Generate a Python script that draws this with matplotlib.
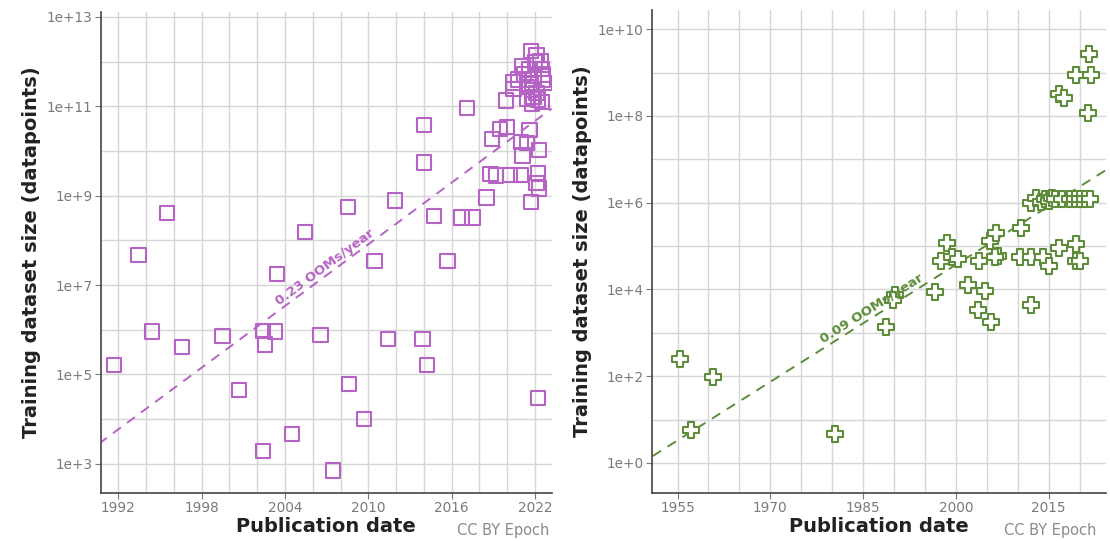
import numpy as np
import matplotlib
matplotlib.use('Agg')
import matplotlib.pyplot as plt
from matplotlib.ticker import FixedLocator, NullFormatter

# left panel: publication year, log10(dataset size)
lang_years = [1991.7, 1993.45, 1994.4, 1995.5, 1996.6, 1999.5, 2000.7, 2002.4, 2002.55, 2003.3,
              2003.4, 2002.4, 2004.5, 2005.45, 2006.55, 2007.45, 2008.55, 2008.6, 2009.7, 2010.45,
              2011.4, 2011.9, 2013.9, 2014.2, 2014.0, 2014.0, 2014.7, 2015.7, 2016.7, 2017.5,
              2017.1, 2018.5, 2018.9, 2018.8, 2019.2, 2019.5, 2020.0, 2019.9, 2020.2, 2021.0,
              2020.4, 2020.45, 2021.1, 2021.0, 2021.4, 2021.7, 2021.6, 2022.3, 2022.2, 2022.1,
              2022.3, 2022.2,
              2021.7, 2022.1, 2021.1, 2022.0, 2022.5, 2022.6, 2022.7, 2020.8, 2021.2, 2021.6,
              2021.4, 2021.8, 2022.1, 2021.4, 2021.8, 2022.5, 2021.9, 2022.2, 2021.6, 2021.9,
              2022.4, 2022.6]
lang_logs = [5.21, 7.68, 5.96, 8.61, 5.61, 5.86, 4.66, 5.98, 5.67, 5.96,
             7.25, 3.28, 3.66, 8.19, 5.88, 2.85, 8.75, 4.78, 4.0, 7.53,
             5.8, 8.89, 5.8, 5.21, 10.58, 9.74, 8.54, 7.53, 8.51, 8.51,
             10.96, 8.96, 10.27, 9.49, 9.45, 10.5, 10.53, 11.13, 9.47, 9.47,
             11.53, 11.38, 9.9, 10.2, 10.17, 8.85, 10.47, 10.03, 9.51, 9.29,
             9.16, 4.47,
             12.23, 12.14, 11.9, 11.98, 11.83, 11.71, 11.52, 11.6, 11.71, 11.83,
             11.44, 11.36, 11.29, 11.17, 11.05, 11.1, 11.2, 11.15, 11.5, 11.6,
             12.0, 11.6]

# right panel
vis_years = [1955.4, 1957.2, 1960.7, 1980.5, 1988.7, 1990.1, 1989.8, 1996.6, 1997.6, 1998.6,
             1999.4, 2000.3, 2002.0, 2003.6, 2003.7, 2004.7, 2005.7, 2005.5, 2006.5, 2006.8,
             2006.4, 2010.6, 2010.3, 2012.2, 2012.1, 2014.1, 2015.0, 2016.7, 2019.5, 2019.4,
             2020.1,
             2012.2, 2013.0, 2013.7, 2014.4, 2015.0, 2015.5, 2016.1, 2017.2, 2018.4, 2019.2,
             2020.1, 2020.9, 2021.7,
             2016.7, 2017.5, 2019.5, 2021.9, 2021.6, 2021.4]
vis_logs = [2.39, 0.75, 1.98, 0.67, 3.14, 3.87, 3.76, 3.93, 4.66, 5.06,
            4.74, 4.70, 4.11, 3.52, 4.66, 3.97, 3.24, 5.11, 5.30, 4.78,
            4.74, 5.42, 4.74, 4.74, 3.64, 4.74, 4.55, 4.96, 5.04, 4.66,
            4.66,
            6.0, 6.1, 6.02, 6.08, 6.05, 6.1, 6.08, 6.08, 6.08, 6.08,
            6.08, 6.08, 6.08,
            8.51, 8.42, 8.95, 8.95, 9.43, 8.06]

lang_trend = (1990.6, 3.45, 0.23)   # start year, start log10, slope
vis_trend = (1951.0, 0.16, 0.09)

PURPLE = '#b563c4'
GREEN = '#5e8c3a'
GRID = '#d6d6d6'
TICKC = '#7a7a7a'


def setup(ax, xlim, ylim, xgrid, xlabels, ydec):
    ax.set_yscale('log')
    ax.set_xlim(*xlim)
    ax.set_ylim(10 ** ylim[0], 10 ** ylim[1])
    ax.set_xticks(xlabels)
    ax.set_xticklabels([str(v) for v in xlabels])
    ax.xaxis.set_minor_locator(FixedLocator(xgrid))
    ax.yaxis.set_major_locator(FixedLocator([10.0 ** k for k in ydec]))
    ax.yaxis.set_major_formatter(plt.FuncFormatter(lambda v, p: '1e+%d' % round(np.log10(v))))
    yall = [10.0 ** k for k in range(int(np.floor(ylim[0])), int(np.ceil(ylim[1])) + 1)]
    ax.yaxis.set_minor_locator(FixedLocator(yall))
    ax.yaxis.set_minor_formatter(NullFormatter())
    ax.grid(True, which='both', color=GRID, lw=1.0)
    ax.set_axisbelow(True)
    for s in ['top', 'right']:
        ax.spines[s].set_visible(False)
    for s in ['left', 'bottom']:
        ax.spines[s].set_color('#444444')
        ax.spines[s].set_linewidth(1.2)
    ax.tick_params(which='major', colors=TICKC, labelsize=9.8, length=4, pad=2)
    ax.tick_params(which='minor', length=0)
    ax.set_xlabel('Publication date', fontsize=14, fontweight='bold', color='#222222', labelpad=1)
    ax.set_ylabel('Training dataset size (datapoints)', fontsize=14, fontweight='bold',
                  color='#222222', labelpad=4)


def trend(ax, tr, xend, color, label, lx, ly_off):
    x0, y0, k = tr
    xs = np.array([x0, xend])
    ax.plot(xs, 10 ** (y0 + k * (xs - x0)), ls=(0, (5, 4)), color=color, lw=1.4)
    ly = y0 + k * (lx - x0) + ly_off
    p1 = ax.transData.transform((lx - 1, 10 ** (y0 + k * (lx - 1 - x0))))
    p2 = ax.transData.transform((lx + 1, 10 ** (y0 + k * (lx + 1 - x0))))
    ang = np.degrees(np.arctan2(p2[1] - p1[1], p2[0] - p1[0]))
    ax.text(lx, 10 ** ly, label, rotation=ang, color=color, fontsize=9.5, fontweight='bold',
            ha='center', va='center', rotation_mode='anchor')


fig = plt.figure(figsize=(11.1, 5.41), dpi=100)
ax1 = fig.add_axes([0.091, 0.089, 0.406, 0.888])
ax2 = fig.add_axes([0.587, 0.089, 0.409, 0.893])

setup(ax1, (1990.75, 2023.2), (2.35, 13.1), np.arange(1992, 2024, 2),
      [1992, 1998, 2004, 2010, 2016, 2022], [3, 5, 7, 9, 11, 13])
setup(ax2, (1950.8, 2024.2), (-0.69, 10.45), np.arange(1955, 2024, 5),
      [1955, 1970, 1985, 2000, 2015], [0, 2, 4, 6, 8, 10])

ax1.scatter(lang_years, 10 ** np.array(lang_logs), marker='s', s=105, facecolors='none',
            edgecolors=PURPLE, linewidths=1.5, zorder=3)
ax2.scatter(vis_years, 10 ** np.array(vis_logs), marker='P', s=120, facecolors='white',
            edgecolors=GREEN, linewidths=1.5, zorder=3)

trend(ax1, lang_trend, 2023.2, PURPLE, '0.23 OOMs/year', 2006.9, 0.2)
trend(ax2, vis_trend, 2024.2, GREEN, '0.09 OOMs/year', 1986.4, 0.22)

fig.text(0.495, 0.006, 'CC BY Epoch', ha='right', va='bottom', color='#8a8a8a', fontsize=10.5)
fig.text(0.988, 0.006, 'CC BY Epoch', ha='right', va='bottom', color='#8a8a8a', fontsize=10.5)

fig.savefig('out.png', dpi=100)
